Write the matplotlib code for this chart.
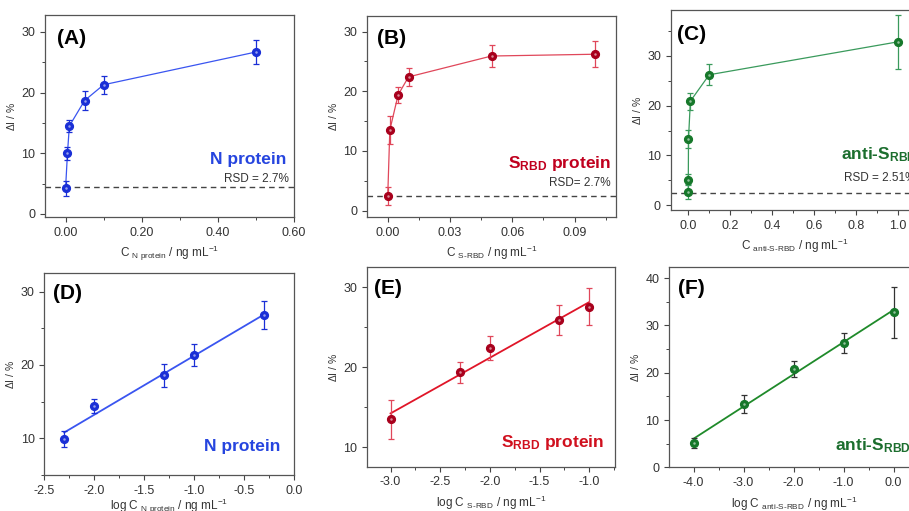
import numpy as np
import matplotlib
matplotlib.use('Agg')
import matplotlib.pyplot as plt
from matplotlib.ticker import MultipleLocator, FormatStrFormatter

plt.rcParams['font.family'] = ['Liberation Sans', 'DejaVu Sans']
plt.rcParams['mathtext.fontset'] = 'custom'
plt.rcParams['mathtext.rm'] = 'Liberation Sans'
plt.rcParams['mathtext.it'] = 'Liberation Sans:italic'
plt.rcParams['mathtext.bf'] = 'Liberation Sans:bold'

# N protein
n_conc = [0.0, 0.005, 0.01, 0.05, 0.1, 0.5]
n_di = [4.2, 10.0, 14.5, 18.7, 21.3, 26.7]
n_err = [1.2, 1.1, 1.0, 1.5, 1.5, 1.9]
n_log = [-2.3, -2.0, -1.3, -1.0, -0.3]
n_log_di = [9.9, 14.4, 18.6, 21.3, 26.8]
n_log_err = [1.1, 1.0, 1.6, 1.5, 1.9]
n_blank = 4.4

# S-RBD protein
s_conc = [0.0, 0.001, 0.005, 0.01, 0.05, 0.1]
s_di = [2.5, 13.5, 19.4, 22.4, 25.9, 26.2]
s_err = [1.5, 2.4, 1.3, 1.5, 1.9, 2.2]
s_log = [-3.0, -2.3, -2.0, -1.3, -1.0]
s_log_di = [13.5, 19.4, 22.4, 25.9, 27.6]
s_log_err = [2.4, 1.3, 1.5, 1.9, 2.3]
s_blank = 2.5

# anti-S-RBD
a_conc = [0.0, 0.0001, 0.001, 0.01, 0.1, 1.0]
a_di = [2.7, 5.1, 13.3, 20.9, 26.2, 32.8]
a_err = [1.5, 1.1, 1.8, 1.7, 2.1, 5.4]
a_log = [-4.0, -3.0, -2.0, -1.0, 0.0]
a_log_di = [5.2, 13.3, 20.8, 26.2, 32.8]
a_log_err = [1.1, 1.9, 1.7, 2.1, 5.4]
a_blank = 2.5

W, H = 909, 511
fig = plt.figure(figsize=(W / 100, H / 100), dpi=100)

def add_ax(l, r, t, b):
    return fig.add_axes([l / W, 1 - b / H, (r - l) / W, (b - t) / H])

def style(ax, xmaj, xmin, ymaj, ymin, xfmt):
    ax.xaxis.set_major_locator(MultipleLocator(xmaj))
    ax.xaxis.set_minor_locator(MultipleLocator(xmin))
    ax.yaxis.set_major_locator(MultipleLocator(ymaj))
    ax.yaxis.set_minor_locator(MultipleLocator(ymin))
    ax.xaxis.set_major_formatter(FormatStrFormatter(xfmt))
    ax.tick_params(which='both', direction='out', colors='#444444', labelcolor='#333333',
                   labelsize=9, top=False, right=False)
    ax.tick_params(which='major', length=3.5, width=0.8)
    ax.tick_params(which='minor', length=2, width=0.7)
    for s in ax.spines.values():
        s.set_color('#555555')
        s.set_linewidth(0.9)
    ax.set_ylabel(r'$\Delta$I / %', fontsize=7.5, color='#333333', labelpad=3)

def draw(ax, x, y, e, mcol, lcol, ecol, fit=False):
    if fit:
        p = np.polyfit(x, y, 1)
        xs = np.array([min(x), max(x)])
        ax.plot(xs, np.polyval(p, xs), '-', color=lcol, lw=1.3, zorder=2)
    else:
        ax.plot(x, y, '-', color=lcol, lw=0.9, zorder=2)
    ax.errorbar(x, y, yerr=e, fmt='none', ecolor=ecol, elinewidth=0.9, capsize=2,
                capthick=0.9, zorder=3)
    ax.plot(x, y, 'o', color=mcol, ms=5.6, mec=mcol, zorder=4)
    ax.plot(x, y, 'o', color='white', ms=1.8, alpha=0.55, mew=0, zorder=5)

blue_m, blue_l, blue_t = '#1a2fd6', '#3a55f0', '#2645df'
red_m, red_l, red_t = '#a8001c', '#e0475a', '#c0001e'
grn_m, grn_l, grn_t = '#16782a', '#3a9a5c', '#1c6e2e'
lab = dict(fontsize=8.5, color='#333333')

# (A)
ax = add_ax(45, 294, 15, 217)
draw(ax, n_conc, n_di, n_err, blue_m, blue_l, blue_m)
ax.axhline(n_blank, color='#444444', lw=1.0, dashes=(4, 3))
ax.set_xlim(-0.054, 0.6)
ax.set_ylim(-0.5, 32.8)
style(ax, 0.2, 0.1, 10, 5, '%.2f')
ax.set_xlabel(r'C $_{\mathrm{N\ protein}}$ / ng mL$^{-1}$', labelpad=4, **lab)
ax.text(0.05, 0.886, '(A)', transform=ax.transAxes, fontsize=15, fontweight='bold', va='center')
ax.text(0.97, 0.287, 'N protein', transform=ax.transAxes, fontsize=12.5, fontweight='bold',
        color=blue_t, ha='right', va='center')
ax.text(0.978, 0.187, 'RSD = 2.7%', transform=ax.transAxes, fontsize=8.5, color='#333333',
        ha='right', va='center')

# (B)
ax = add_ax(367, 616, 16, 217)
draw(ax, s_conc, s_di, s_err, red_m, red_l, red_l)
ax.axhline(s_blank, color='#444444', lw=1.0, dashes=(4, 3))
ax.set_xlim(-0.01, 0.11)
ax.set_ylim(-1.05, 32.6)
style(ax, 0.03, 0.015, 10, 5, '%.2f')
ax.set_xlabel(r'C $_{\mathrm{S\text{-}RBD}}$ / ng mL$^{-1}$', labelpad=4, **lab)
ax.text(0.04, 0.89, '(B)', transform=ax.transAxes, fontsize=15, fontweight='bold', va='center')
ax.text(0.979, 0.267, r'S$_{\mathbf{RBD}}$ protein', transform=ax.transAxes, fontsize=12.5,
        fontweight='bold', color=red_t, ha='right', va='center')
ax.text(0.978, 0.168, 'RSD= 2.7%', transform=ax.transAxes, fontsize=8.5, color='#333333',
        ha='right', va='center')

# (C)
ax = add_ax(670.7, 918.6, 10, 210)
draw(ax, a_conc, a_di, a_err, grn_m, grn_l, grn_l)
ax.axhline(a_blank, color='#444444', lw=1.0, dashes=(4, 3))
ax.set_xlim(-0.084, 1.1)
ax.set_ylim(-0.95, 39.2)
style(ax, 0.2, 0.1, 10, 5, '%.1f')
ax.set_xlabel(r'C $_{\mathrm{anti\text{-}S\text{-}RBD}}$ / ng mL$^{-1}$', labelpad=4, **lab)
ax.text(0.025, 0.88, '(C)', transform=ax.transAxes, fontsize=15, fontweight='bold', va='center')
ax.text(0.685, 0.275, r'anti-S$_{\mathbf{RBD}}$', transform=ax.transAxes, fontsize=12.5,
        fontweight='bold', color=grn_t, ha='left', va='center')
ax.text(0.699, 0.158, 'RSD = 2.51%', transform=ax.transAxes, fontsize=8.5, color='#333333',
        ha='left', va='center')

# (D)
ax = add_ax(44.3, 294, 273.3, 475)
draw(ax, n_log, n_log_di, n_log_err, blue_m, blue_l, blue_m, fit=True)
ax.set_xlim(-2.5, 0.0)
ax.set_ylim(5, 32.5)
style(ax, 0.5, 0.25, 10, 5, '%.1f')
ax.set_xlabel(r'log C $_{\mathrm{N\ protein}}$ / ng mL$^{-1}$', labelpad=0, **lab)
ax.text(0.036, 0.9, '(D)', transform=ax.transAxes, fontsize=15, fontweight='bold', va='center')
ax.text(0.944, 0.14, 'N protein', transform=ax.transAxes, fontsize=12.5, fontweight='bold',
        color=blue_t, ha='right', va='center')

# (E)
ax = add_ax(366.7, 615, 267.3, 466.7)
draw(ax, s_log, s_log_di, s_log_err, red_m, '#e01528', red_l, fit=True)
ax.set_xlim(-3.24, -0.74)
ax.set_ylim(7.6, 32.5)
style(ax, 0.5, 0.25, 10, 5, '%.1f')
ax.set_xlabel(r'log C $_{\mathrm{S\text{-}RBD}}$ / ng mL$^{-1}$', labelpad=4, **lab)
ax.text(0.03, 0.895, '(E)', transform=ax.transAxes, fontsize=15, fontweight='bold', va='center')
ax.text(0.956, 0.122, r'S$_{\mathbf{RBD}}$ protein', transform=ax.transAxes, fontsize=12.5,
        fontweight='bold', color='#d0101e', ha='right', va='center')

# (F)
ax = add_ax(669, 919, 267.3, 467.3)
draw(ax, a_log, a_log_di, a_log_err, grn_m, '#1f8a2a', '#333333', fit=True)
ax.set_xlim(-4.49, 0.51)
ax.set_ylim(0, 42.3)
style(ax, 1.0, 0.5, 10, 5, '%.1f')
ax.set_xlabel(r'log C $_{\mathrm{anti\text{-}S\text{-}RBD}}$ / ng mL$^{-1}$', labelpad=4, **lab)
ax.text(0.037, 0.895, '(F)', transform=ax.transAxes, fontsize=15, fontweight='bold', va='center')
ax.text(0.664, 0.11, r'anti-S$_{\mathbf{RBD}}$', transform=ax.transAxes, fontsize=12.5,
        fontweight='bold', color=grn_t, ha='left', va='center')

fig.savefig('out.png', dpi=100)
